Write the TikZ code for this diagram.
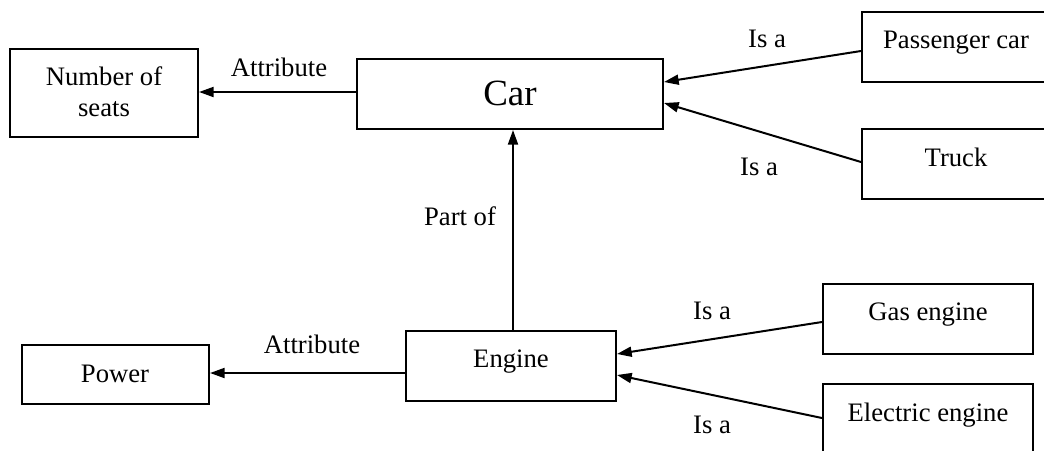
\documentclass[tikz,border=0pt]{standalone}
\usepackage{fontspec}
\setmainfont{Liberation Serif}
\usetikzlibrary{arrows.meta,calc}
\begin{document}
\begin{tikzpicture}[x=0.75pt,y=-0.75pt,
  box/.style={draw,line width=1.5pt,rectangle,inner sep=0pt},
  sz/.style 2 args={minimum width=#1*0.75pt,minimum height=#2*0.75pt},
  txt/.style={inner sep=0pt,anchor=base,font=\fontsize{20}{24}\selectfont},
  bigtxt/.style={inner sep=0pt,anchor=base,font=\fontsize{27.75}{32}\selectfont},
  link/.style={line width=1.5pt,-{Triangle[length=11pt,width=7.5pt]}}]
\useasboundingbox (0,0) rectangle (1044,450);
\clip (0,0) rectangle (1044,450);

% concept boxes
\node[box,sz={188}{88}] (seats)  at (104,93) {};
\node[box,sz={306}{70}] (car)    at (510,94) {};
\node[box,sz={188}{70}] (pc)     at (956,47) {};
\node[box,sz={188}{70}] (truck)  at (956,164) {};
\node[box,sz={187}{59}] (power)  at (115.5,374.5) {};
\node[box,sz={210}{70}] (engine) at (511,366) {};
\node[box,sz={210}{70}] (gas)    at (928,319) {};
\node[box,sz={210}{70}] (elec)   at (928,419) {};

% box texts
\node[txt] (seats-t1) at (104,85)  {Number of};
\node[txt] (seats-t2) at (104,116) {seats};
\node[bigtxt] (car-t) at (510,105) {Car};
\node[txt] (pc-t)     at (956,48)  {Passenger car};
\node[txt] (truck-t)  at (956,166) {Truck};
\node[txt] (power-t)  at (115,382) {Power};
\node[txt] (engine-t) at (511,367) {Engine};
\node[txt] (gas-t)    at (928,320) {Gas engine};
\node[txt] (elec-t)   at (928,421) {Electric engine};

% relations
\draw[link] ($(car.west)+(0,-2)$) -- ($(car.west -| seats.east)+(0,-2)$);
\draw[link] ($(pc.west)+(0,4)$) -- ($(car.east)+(0,-12)$);
\draw[link] ($(truck.west)+(0,-2)$) -- ($(car.east)+(0,9)$);
\draw[link] ($(engine.north)+(2,0)$) -- ($(engine.north |- car.south)+(2,0)$);
\draw[link] ($(power.east -| engine.west)+(0,-1.5)$) -- ($(power.east)+(0,-1.5)$);
\draw[link] ($(gas.west)+(0,3)$) -- ($(engine.east)+(0,-12)$);
\draw[link] ($(elec.west)+(0,-1)$) -- ($(engine.east)+(0,9)$);

% relation labels
\node[txt] (l-attr1) at (279,76)  {Attribute};
\node[txt] (l-isa1)  at (767,47)  {Is a};
\node[txt] (l-isa2)  at (759,175) {Is a};
\node[txt] (l-part)  at (460,225) {Part of};
\node[txt] (l-attr2) at (312,353) {Attribute};
\node[txt] (l-isa3)  at (712,319) {Is a};
\node[txt] (l-isa4)  at (712,433) {Is a};
\end{tikzpicture}
\end{document}
